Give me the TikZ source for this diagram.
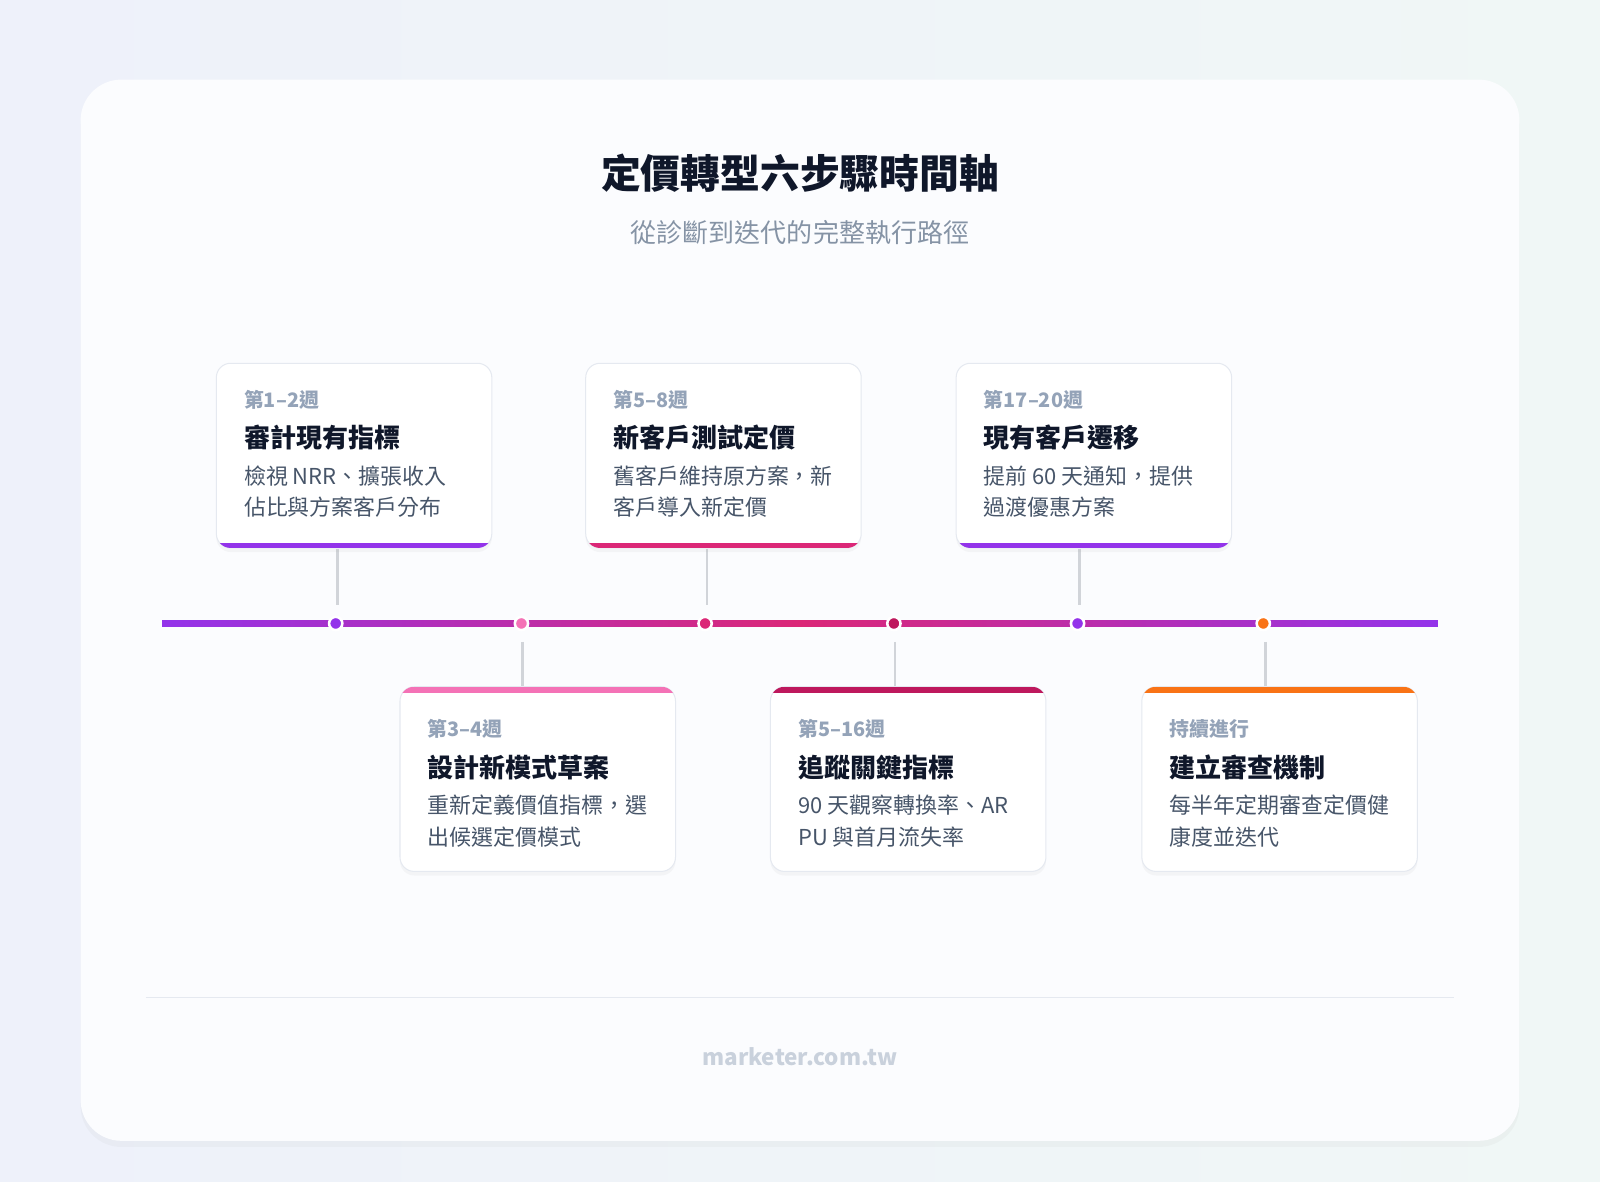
\documentclass[tikz,border=0pt]{standalone}
\usepackage{fontspec}
\setmainfont{Noto Sans CJK TC}
\usetikzlibrary{shadows}
\definecolor{cpur}{HTML}{9333EA}
\definecolor{cpink}{HTML}{F472B6}
\definecolor{crose}{HTML}{DB2777}
\definecolor{ccrim}{HTML}{BE185D}
\definecolor{corange}{HTML}{F97316}
\definecolor{ink}{HTML}{0F172A}
\definecolor{muted}{HTML}{94A3B8}
\definecolor{body}{HTML}{475569}
\definecolor{edge}{HTML}{E5E9F0}
\definecolor{bgl}{HTML}{EEF1FA}
\definecolor{bgr}{HTML}{F0F7F6}
\definecolor{panel}{HTML}{FBFCFE}
\tikzset{
 lbl/.style={anchor=base west,inner sep=0,font=\fontsize{19.5}{22}\selectfont\bfseries,text=muted},
 ttl/.style={anchor=base west,inner sep=0,font=\fontsize{25.5}{28}\selectfont\bfseries,text=ink},
 dsc/.style={anchor=north west,inner sep=0,align=left,font=\fontsize{21.5}{31}\selectfont,text=body},
 stem/.style={draw=edge!80!gray,line width=2.5pt},
 dot/.style={circle,minimum size=13pt,inner sep=0,draw=white,line width=2.5pt},
}
\newcommand{\stepcard}[8]{
 \path[fill=white,draw=edge,line width=1pt,rounded corners=14pt,drop shadow={opacity=0.06,shadow xshift=0pt,shadow yshift=-4pt}]
   (#1,#2) rectangle ++(270,181);
 \begin{scope}
 \clip[rounded corners=14pt] (#1,#2) rectangle ++(270,181);
 \ifnum#4=1 \fill[#3] (#1,#2) rectangle ++(270,6);
 \else \fill[#3] (#1,#2+176) rectangle ++(270,6);\fi
 \end{scope}
 \coordinate (#5) at (#1+135,#2);
 \coordinate (#5b) at (#1+135,#2+181);
 \node[lbl] (#5l) at (#1+27,#2+43+6*#4) {#6};
 \node[ttl] (#5t) at (#1+27,#2+83+6*#4) {#7};
 \node[dsc] (#5d) at (#1+27,#2+100+6*#4) {#8};
}
\begin{document}
\begin{tikzpicture}[x=1pt,y=-1pt]
\useasboundingbox (0,0) rectangle (1568,1158);
\fill[left color=bgl,right color=bgr] (0,0) rectangle (1568,1158);
\path[fill=panel,rounded corners=40pt,drop shadow={opacity=0.05,shadow xshift=0pt,shadow yshift=-6pt}] (79,78) rectangle (1489,1118);
\node[font=\fontsize{39}{44}\selectfont\bfseries,text=ink] (title) at (784,170) {定價轉型六步驟時間軸};
\node[font=\fontsize{25.5}{28}\selectfont,text=muted!90!black] (sub) at (784,228) {從診斷到迭代的完整執行路徑};
\shade[left color=cpur,right color=cpur,middle color=crose] (159,608.5) rectangle (1409,613.5);
\coordinate (tl) at (159,611); \coordinate (tr) at (1409,611);
\draw[stem] (331,538) -- (331,593);
\draw[stem] (693,538) -- (693,593);
\draw[stem] (1058,538) -- (1058,593);
\draw[stem] (512,629) -- (512,673);
\draw[stem] (877,629) -- (877,673);
\draw[stem] (1240,629) -- (1240,673);
\node[dot,fill=cpur] (d1) at (329,611) {};
\node[dot,fill=cpink] (d2) at (511,611) {};
\node[dot,fill=crose] (d3) at (691,611) {};
\node[dot,fill=ccrim] (d4) at (876,611) {};
\node[dot,fill=cpur] (d5) at (1056,611) {};
\node[dot,fill=corange] (d6) at (1238,611) {};
\stepcard{212}{356}{cpur}{0}{c1}{第1–2週}{審計現有指標}{檢視 NRR、擴張收入\\佔比與方案客戶分布}
\stepcard{574}{356}{crose}{0}{c2}{第5–8週}{新客戶測試定價}{舊客戶維持原方案，新\\客戶導入新定價}
\stepcard{937}{356}{cpur}{0}{c3}{第17–20週}{現有客戶遷移}{提前 60 天通知，提供\\過渡優惠方案}
\stepcard{392}{673}{cpink}{1}{c4}{第3–4週}{設計新模式草案}{重新定義價值指標，選\\出候選定價模式}
\stepcard{755}{673}{ccrim}{1}{c5}{第5–16週}{追蹤關鍵指標}{90 天觀察轉換率、AR\\PU 與首月流失率}
\stepcard{1119}{673}{corange}{1}{c6}{持續進行}{建立審查機制}{每半年定期審查定價健\\康度並迭代}
\draw[edge,line width=1pt] (143,978) -- (1425,978);
\node[font=\fontsize{22}{24}\selectfont\bfseries,text=muted!50!white] (foot) at (784,1036) {marketer.com.tw};
\end{tikzpicture}
\end{document}
